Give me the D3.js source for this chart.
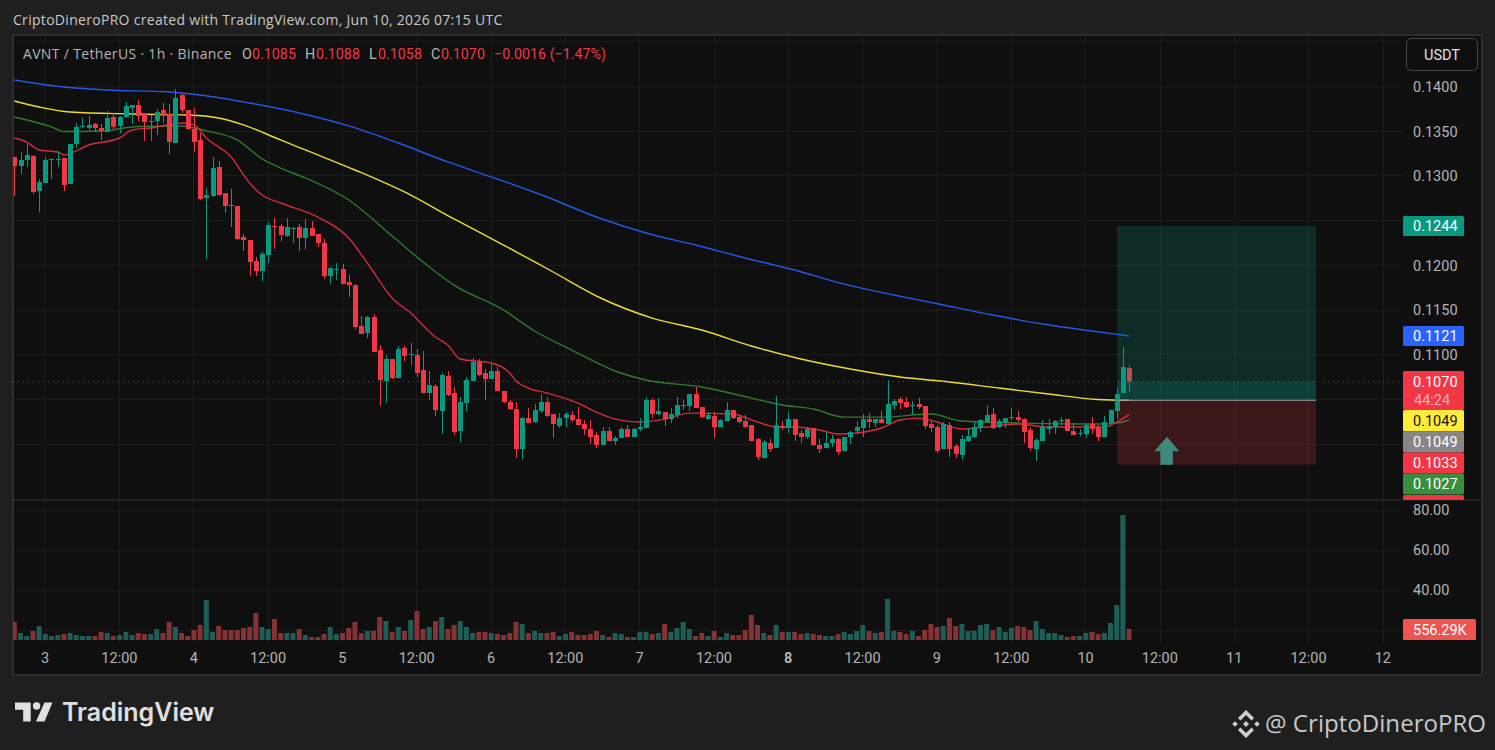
<!DOCTYPE html>
<html>
<head>
<meta charset="utf-8">
<title>AVNT / TetherUS</title>
<script src="https://cdn.jsdelivr.net/npm/d3@7"></script>
<style>
  html, body { margin: 0; padding: 0; background: #1f1f1f; overflow: hidden; }
  svg { display: block; }
  text { font-family: Roboto, "Liberation Sans", sans-serif; }
</style>
</head>
<body>
<div id="chart"></div>
<script>
// hourly candles, index 0 is Jun 2 19:00, one value per hour
const opens = [
  .13212,.13111,.13178,.13223,.12831,.12920,.13178,.13178,.13201,.12909,
  .13357,.13548,.13536,.13581,.13536,.13491,.13659,.13559,.13659,.13760,
  .13793,.13693,.13603,.13614,.13737,.13693,.13368,.13905,.13737,.13525,
  .13402,.12753,.12775,.13100,.12808,.12674,.12663,.12317,.12283,.12048,
  .11936,.12115,.12440,.12440,.12328,.12406,.12429,.12306,.12417,.12350,
  .12250,.11880,.11947,.11958,.11813,.11779,.11321,.11243,.11421,.11052,
  .10706,.10952,.10739,.11074,.10997,.10997,.10829,.10572,.10650,.10370,
  .10762,.10572,.10146,.10459,.10706,.10919,.10795,.10728,.10818,.10594,
  .10471,.10392,.09945,.10291,.10247,.10370,.10471,.10336,.10202,.10291,
  .10325,.10280,.10224,.10169,.10102,.09990,.10146,.10034,.10068,.10169,
  .10079,.10169,.10180,.10493,.10336,.10358,.10280,.10325,.10426,.10426,
  .10560,.10415,.10280,.10314,.10191,.10258,.10381,.10302,.10258,.10213,
  .10057,.09844,.10012,.09956,.10202,.10180,.10280,.10124,.10079,.10180,
  .09990,.09956,.10012,.10057,.09923,.10079,.10146,.10180,.10280,.10235,
  .10280,.10224,.10437,.10504,.10471,.10426,.10448,.10426,.10224,.10191,
  .09945,.10213,.09979,.09878,.10034,.10079,.10180,.10247,.10336,.10191,
  .10235,.10291,.10302,.10280,.10158,.09945,.10034,.10169,.10191,.10258,
  .10280,.10146,.10113,.10113,.10224,.10191,.10079,.10235,.10370,.10572,.10850
];
const closes = [
  .13111,.13178,.13234,.12820,.12931,.13178,.13190,.13190,.12898,.13357,
  .13548,.13559,.13570,.13536,.13503,.13648,.13548,.13659,.13782,.13793,
  .13670,.13603,.13614,.13715,.13670,.13379,.13872,.13737,.13525,.13379,
  .12741,.12786,.13088,.12786,.12663,.12663,.12294,.12283,.12037,.11936,
  .12126,.12451,.12429,.12339,.12429,.12417,.12306,.12417,.12328,.12250,
  .11880,.11969,.11958,.11790,.11779,.11310,.11232,.11421,.11030,.10717,
  .10952,.10739,.11063,.10985,.11008,.10795,.10572,.10661,.10381,.10773,
  .10549,.10135,.10471,.10717,.10919,.10773,.10728,.10818,.10594,.10471,
  .10392,.09945,.10291,.10235,.10381,.10471,.10314,.10224,.10291,.10336,
  .10269,.10213,.10169,.10079,.09990,.10146,.10034,.10068,.10169,.10079,
  .10169,.10191,.10493,.10336,.10370,.10280,.10336,.10437,.10437,.10560,
  .10403,.10302,.10325,.10191,.10269,.10381,.10291,.10247,.10191,.10034,
  .09856,.10023,.09945,.10213,.10180,.10280,.10102,.10079,.10169,.09990,
  .09945,.10012,.10057,.09912,.10079,.10135,.10191,.10280,.10247,.10280,
  .10235,.10448,.10482,.10459,.10415,.10437,.10415,.10202,.10180,.09923,
  .10224,.09945,.09889,.10057,.10090,.10191,.10269,.10325,.10180,.10258,
  .10291,.10302,.10269,.10135,.09956,.10046,.10191,.10202,.10258,.10269,
  .10146,.10102,.10124,.10213,.10169,.10079,.10247,.10381,.10560,.10862,.10700
];
const highs = [
  .13212,.13268,.13357,.13234,.12965,.13209,.13190,.13268,.13201,.13357,
  .13592,.13648,.13670,.13592,.13581,.13726,.13704,.13670,.13827,.13793,
  .13849,.13704,.13681,.13748,.13815,.13804,.13972,.13916,.13737,.13759,
  .13480,.12864,.13212,.13167,.12808,.12853,.12663,.12350,.12283,.12093,
  .12149,.12485,.12529,.12462,.12529,.12429,.12462,.12518,.12496,.12350,
  .12294,.11981,.12026,.12015,.11891,.11790,.11433,.11433,.11455,.11108,
  .10997,.10952,.11097,.11097,.11130,.11063,.11041,.10818,.10672,.10795,
  .10818,.10639,.10527,.10750,.10963,.10952,.10840,.10896,.10862,.10594,
  .10493,.10471,.10302,.10403,.10448,.10560,.10527,.10336,.10347,.10358,
  .10370,.10415,.10269,.10269,.10135,.10191,.10191,.10090,.10191,.10213,
  .10180,.10291,.10527,.10515,.10515,.10358,.10403,.10527,.10493,.10560,
  .10639,.10415,.10358,.10358,.10280,.10471,.10381,.10314,.10325,.10213,
  .10068,.10046,.10057,.10538,.10258,.10358,.10280,.10158,.10191,.10180,
  .10057,.10135,.10102,.10068,.10079,.10146,.10258,.10336,.10347,.10280,
  .10370,.10717,.10504,.10527,.10527,.10482,.10515,.10426,.10258,.10213,
  .10247,.10247,.10001,.10102,.10180,.10258,.10280,.10437,.10403,.10280,
  .10291,.10403,.10370,.10291,.10191,.10068,.10269,.10280,.10269,.10302,
  .10280,.10235,.10169,.10224,.10302,.10213,.10314,.10381,.10627,.11086,.10880
];
const lows = [
  .12775,.13021,.13100,.12798,.12596,.12920,.12965,.13100,.12831,.12909,
  .13312,.13536,.13514,.13491,.13402,.13491,.13525,.13480,.13648,.13581,
  .13614,.13391,.13391,.13458,.13592,.13245,.13368,.13704,.13514,.13268,
  .12730,.12070,.12764,.12775,.12585,.12429,.12283,.12160,.11880,.11880,
  .11824,.12026,.12182,.12272,.12317,.12250,.12160,.12182,.12328,.12205,
  .11846,.11790,.11835,.11790,.11645,.11287,.11232,.11187,.11030,.10426,
  .10459,.10728,.10739,.10930,.10885,.10750,.10572,.10493,.10314,.10113,
  .10538,.10102,.10024,.10370,.10706,.10762,.10493,.10728,.10594,.10459,
  .10381,.09844,.09822,.10235,.10235,.10347,.10302,.10068,.10180,.10191,
  .10247,.10213,.10102,.10001,.09956,.09990,.10034,.09990,.10068,.10079,
  .10079,.10146,.10180,.10291,.10325,.10202,.10235,.10291,.10381,.10370,
  .10403,.10291,.10280,.10068,.10191,.10258,.10280,.10235,.10180,.10034,
  .09822,.09844,.09912,.09956,.10158,.10124,.10034,.10012,.10057,.09979,
  .09900,.09956,.09968,.09878,.09923,.10001,.10113,.10079,.10180,.10191,
  .10235,.10224,.10381,.10392,.10403,.10325,.10392,.10169,.10135,.09900,
  .09945,.09856,.09844,.09822,.10023,.10068,.10135,.10247,.10169,.10180,
  .10180,.10269,.10247,.10012,.09923,.09811,.10034,.10113,.10113,.10213,
  .10146,.10102,.10090,.10068,.10113,.10034,.10079,.10224,.10280,.10572,.10580
];
// volume in thousands
const volumes = [
  900,350,200,450,700,300,200,250,300,350,
  250,200,200,200,400,350,200,250,400,250,
  350,300,300,550,350,900,650,350,200,500,
  750,2000,400,700,500,500,500,600,650,1350,
  650,550,1050,350,350,350,550,250,150,150,
  300,650,300,350,600,900,350,450,450,1150,
  950,400,650,450,1000,1450,550,650,950,1150,
  550,750,950,650,350,400,400,350,300,250,
  350,900,800,350,450,350,350,400,200,300,
  400,250,250,300,450,250,150,350,300,150,
  150,400,400,300,350,800,400,600,900,550,
  200,350,200,450,150,350,250,250,500,1250,
  750,350,250,750,400,400,400,300,350,300,
  250,200,200,300,400,300,450,750,450,350,
  400,2050,450,400,300,450,200,500,800,650,
  700,1100,700,800,450,450,750,800,500,650,
  400,600,700,650,500,950,550,350,350,250,
  150,200,200,350,400,300,350,850,1750,6250,556.29
];

// moving averages, hours counted from Jun 3 00:00
const blueHours = [-5,3,10,20,25,33,41,49,57,65,73,81,89,97,105,113,121,129,137,145,153,161,169,175];
const bluePrices = [.14073,.13994,.13961,.13938,.13905,.13815,.13704,.13559,.13368,.13156,.12965,.12764,.12540,.12361,.12227,.12082,.11947,.11790,.11668,.11556,.11444,.11343,.11265,.11210];
const yellowHours = [-5,-1,4,14,23,28,32,38,42,50,58,66,74,82,90,98,106,114,122,130,138,146,154,162,170,175];
const yellowPrices = [.13838,.13771,.13715,.13693,.13681,.13648,.13570,.13402,.13290,.13066,.12820,.12518,.12227,.11925,.11623,.11410,.11276,.11097,.10952,.10840,.10750,.10695,.10627,.10560,.10499,.10490];
const greenHours = [-5,1,3,9,15,22,26,31,35,38,42,49,56,62,66,74,79,85,92,97,106,114,119,124,129,135,143,148,158,170,173,175];
const greenPrices = [.13659,.13548,.13497,.13503,.13553,.13559,.13503,.13402,.13190,.13088,.12977,.12730,.12328,.11981,.11779,.11500,.11265,.11052,.10818,.10717,.10639,.10515,.10437,.10392,.10302,.10302,.10336,.10258,.10235,.10224,.10235,.10270];
const redHours = [-5,-3,-1,2,3,7,12,14,17,22,24,26,30,33,35,38,44,49,52,56,59,63,65,67,72,75,76,78,81,86,89,92,96,100,104,111,115,118,121,125,128,131,135,138,141,144,148,152,157,162,171,173,175];
const redPrices = [.13424,.13379,.13290,.13268,.13234,.13346,.13424,.13514,.13536,.13592,.13570,.13424,.13212,.12920,.12786,.12697,.12540,.12306,.12026,.11634,.11466,.11198,.11108,.10952,.10907,.10795,.10706,.10627,.10572,.10459,.10358,.10280,.10247,.10280,.10347,.10336,.10247,.10191,.10191,.10158,.10113,.10124,.10180,.10269,.10291,.10247,.10169,.10191,.10224,.10191,.10191,.10247,.10330];

// axis ticks
const priceTicks = [.14,.135,.13,.12,.115,.11];
const priceGrid = [.145,.14,.135,.13,.125,.12,.115,.11,.105,.10];
const lowerTicks = [80,60,40];
const lowerGrid = [80,60,40,20];
const timeHours = [0,12,24,36,48,60,72,84,96,108,120,132,144,156,168,180,192,204,216];
const timeLabels = ["3","12:00","4","12:00","5","12:00","6","12:00","7","12:00","8","12:00","9","12:00","10","12:00","11","12:00","12"];

// long position tool
const posStart = 173.05, posEnd = 205.2;
const posTarget = .1244, posEntry = .1049, posStop = .0977, lastPrice = .1070;

// price tags on the right hand axis
const tagValues = ["0.1244","0.1121","0.1049","0.1049","0.1033","0.1027"];
const tagColors = ["#089981","#2962ff","#ffeb3b","#868686","#f23645","#388e3c"];

const W = 1495, H = 750;
const pane = {left: 13, right: 1402, top: 35, mid: 500, bottom: 642, end: 675, outer: 1482};
const axisFont = 14.5;

const svg = d3.select("#chart").append("svg").attr("width", W).attr("height", H);

const x = d3.scaleLinear().domain([0, 216]).range([45.3, 1383]);
const y = d3.scaleLinear().domain([.14, .10]).range([86.5, 444.1]);
const vol = d3.scaleLinear().domain([0, 6250]).range([640, 515]);
const lowerY = d3.scaleLinear().domain([80, 20]).range([510, 630]);

// frame
svg.append("rect").attr("x", pane.left).attr("y", pane.top)
  .attr("width", pane.outer - pane.left).attr("height", pane.end - pane.top)
  .attr("fill", "#0f0f0f").attr("stroke", "#2e2e2e").attr("stroke-width", 2);

svg.append("defs").append("clipPath").attr("id", "paneClip").append("rect")
  .attr("x", pane.left).attr("y", pane.top).attr("width", pane.right - pane.left).attr("height", pane.bottom - pane.top);

// grid
const grid = svg.append("g").attr("stroke", "#1c1c1c").attr("stroke-width", 1).attr("shape-rendering", "crispEdges");
grid.selectAll(".v").data(timeHours).join("line")
  .attr("x1", d => x(d)).attr("x2", d => x(d)).attr("y1", pane.top).attr("y2", pane.bottom);
grid.selectAll(".h").data(priceGrid).join("line")
  .attr("x1", pane.left).attr("x2", pane.right).attr("y1", d => y(d)).attr("y2", d => y(d));
grid.selectAll(".l").data(lowerGrid).join("line")
  .attr("x1", pane.left).attr("x2", pane.right).attr("y1", d => lowerY(d)).attr("y2", d => lowerY(d));

svg.append("line").attr("x1", pane.left).attr("x2", pane.outer).attr("y1", pane.mid).attr("y2", pane.mid)
  .attr("stroke", "#2e2e2e").attr("stroke-width", 1);

const plot = svg.append("g").attr("clip-path", "url(#paneClip)");

// candle index to hour
const hourOf = i => i - 5;
const candles = d3.range(opens.length);
const isUp = i => closes[i] >= opens[i];

// volume
plot.append("g").selectAll("rect").data(candles).join("rect")
  .attr("x", i => x(hourOf(i)) - 2.5).attr("width", 5)
  .attr("y", i => vol(volumes[i])).attr("height", i => vol(0) - vol(volumes[i]))
  .attr("fill", i => isUp(i) ? "#1d5e57" : "#863234");

// moving averages
const maLine = (hours, prices) => d3.line().curve(d3.curveMonotoneX)
  .x((d, i) => x(hours[i])).y(d => y(d))(prices);
[[blueHours, bluePrices, "#2458e8"], [yellowHours, yellowPrices, "#ecdc38"],
 [greenHours, greenPrices, "#2f7a30"], [redHours, redPrices, "#d02c3c"]].forEach(s => {
  plot.append("path").attr("d", maLine(s[0], s[1]))
    .attr("fill", "none").attr("stroke", s[2]).attr("stroke-width", 1.4);
});

// current price line
svg.append("line").attr("x1", pane.left).attr("x2", pane.right)
  .attr("y1", y(lastPrice)).attr("y2", y(lastPrice))
  .attr("stroke", "#f23645").attr("stroke-opacity", .75).attr("stroke-dasharray", "1 4");

// candles
const candle = plot.append("g").selectAll("g").data(candles).join("g");
candle.append("line")
  .attr("x1", i => Math.round(x(hourOf(i))) + .5).attr("x2", i => Math.round(x(hourOf(i))) + .5)
  .attr("y1", i => y(highs[i])).attr("y2", i => y(lows[i]))
  .attr("stroke", i => isUp(i) ? "#089981" : "#f23645").attr("stroke-width", 1);
candle.append("rect")
  .attr("x", i => Math.round(x(hourOf(i))) - 2).attr("width", 5)
  .attr("y", i => y(Math.max(opens[i], closes[i])))
  .attr("height", i => Math.max(1, Math.abs(y(opens[i]) - y(closes[i]))))
  .attr("fill", i => isUp(i) ? "#089981" : "#f23645");

// long position box
const box = svg.append("g");
box.append("rect").attr("x", x(posStart)).attr("width", x(posEnd) - x(posStart))
  .attr("y", y(posTarget)).attr("height", y(posEntry) - y(posTarget))
  .attr("fill", "#089981").attr("fill-opacity", .2);
box.append("rect").attr("x", x(posStart)).attr("width", x(posEnd) - x(posStart))
  .attr("y", y(posEntry)).attr("height", y(posStop) - y(posEntry))
  .attr("fill", "#f23645").attr("fill-opacity", .2);
box.append("rect").attr("x", x(posStart)).attr("width", x(posEnd) - x(posStart))
  .attr("y", y(lastPrice)).attr("height", y(posEntry) - y(lastPrice))
  .attr("fill", "#089981").attr("fill-opacity", .2);
box.append("line").attr("x1", x(posStart)).attr("x2", x(posEnd))
  .attr("y1", y(posEntry)).attr("y2", y(posEntry)).attr("stroke", "#9a9a9a").attr("stroke-width", 1);

// arrow on the stop box
const ax = x(181.1), ab = y(posStop);
box.append("path")
  .attr("d", `M${ax},${ab - 28} L${ax + 12.5},${ab - 13.5} L${ax + 6},${ab - 13.5} L${ax + 6},${ab} L${ax - 6.5},${ab} L${ax - 6.5},${ab - 13.5} L${ax - 12.5},${ab - 13.5} Z`)
  .attr("fill", "#3f8a7b");

// price axis
const priceAxis = d3.axisRight(y).tickValues(priceTicks).tickFormat(d3.format(".4f")).tickSize(0).tickPadding(0);
const pAxisG = svg.append("g").attr("transform", "translate(1413,0.3)").call(priceAxis);
const lowerAxis = d3.axisRight(lowerY).tickValues(lowerTicks).tickFormat(d3.format(".2f")).tickSize(0).tickPadding(0);
const lAxisG = svg.append("g").attr("transform", "translate(1413,0.3)").call(lowerAxis);
[pAxisG, lAxisG].forEach(g => {
  g.select(".domain").remove();
  g.selectAll("text").attr("fill", "#b4b4b4").attr("font-size", axisFont).style("font-family", "Roboto, sans-serif");
});

// time axis
const timeAxis = d3.axisBottom(x).tickValues(timeHours)
  .tickFormat((d, i) => timeLabels[i]).tickSize(0).tickPadding(0);
const tAxisG = svg.append("g").attr("transform", "translate(-0.7,653)").call(timeAxis);
tAxisG.select(".domain").remove();
tAxisG.selectAll("text").attr("fill", "#b4b4b4").attr("font-size", axisFont)
  .attr("font-weight", d => d === 120 ? 700 : 400).style("font-family", "Roboto, sans-serif");

// tags stacked on the axis, the last price block first
const tagX = 1403, tagW = 61;
function tag(yTop, h, color, label, textColor) {
  svg.append("rect").attr("x", tagX).attr("y", yTop).attr("width", tagW).attr("height", h).attr("fill", color).attr("rx", 1.5);
  if (label) svg.append("text").attr("x", 1413).attr("y", yTop + h / 2 + 5.2).attr("font-size", axisFont)
    .attr("fill", textColor).text(label);
}
tag(y(posTarget) - 10, 20, tagColors[0], tagValues[0], "#ffffff");
tag(y(.1121) - 10, 20, tagColors[1], tagValues[1], "#ffffff");
tag(371, 39, "#f23645", null);
svg.append("text").attr("x", 1413).attr("y", 386.5).attr("font-size", axisFont).attr("fill", "#ffffff").text(d3.format(".4f")(lastPrice));
svg.append("text").attr("x", 1414).attr("y", 405).attr("font-size", axisFont).attr("fill", "#f9b4ba").text("44:24");
tag(410, 21.5, tagColors[2], tagValues[2], "#131313");
tag(431.5, 21, tagColors[3], tagValues[3], "#ffffff");
tag(452.5, 21, tagColors[4], tagValues[4], "#ffffff");
tag(473.5, 21, tagColors[5], tagValues[5], "#ffffff");
tag(495, 5, "#f23645", null);

// volume tag
svg.append("rect").attr("x", 1403).attr("y", 619).attr("width", 73).attr("height", 21).attr("fill", "#ef5350").attr("rx", 1.5);
svg.append("text").attr("x", 1413).attr("y", 634.5).attr("font-size", axisFont).attr("fill", "#ffffff").text("556.29K");

// currency button
svg.append("rect").attr("x", 1406.5).attr("y", 38.5).attr("width", 71).attr("height", 32).attr("rx", 5)
  .attr("fill", "#0f0f0f").attr("stroke", "#4a4a4a");
svg.append("text").attr("x", 1442).attr("y", 60).attr("text-anchor", "middle").attr("font-size", 14.5)
  .attr("fill", "#e0e0e0").text("USDT");

// header and legend
svg.append("text").attr("x", 13).attr("y", 24.5).attr("font-size", 14).attr("letter-spacing", .3).attr("fill", "#c8c8c8")
  .style("font-family", "'Open Sans', sans-serif")
  .text("CriptoDineroPRO created with TradingView.com, Jun 10, 2026 07:15 UTC");

const legendGray = "#b4b4b4", legendRed = "#f23645";
const legendParts = [
  [23, "AVNT / TetherUS · 1h · Binance", legendGray],
  [242, "O", legendGray], [252, "0.1085", legendRed],
  [305, "H", legendGray], [316, "0.1088", legendRed],
  [369, "L", legendGray], [378, "0.1058", legendRed],
  [431, "C", legendGray], [441, "0.1070", legendRed],
  [494, "−0.0016 (−1.47%)", legendRed]
];
svg.append("g").selectAll("text").data(legendParts).join("text")
  .attr("x", d => d[0]).attr("y", 59).attr("font-size", d => d[0] === 23 ? 14 : 14.3)
  .attr("letter-spacing", d => d[0] === 23 ? .33 : 0)
  .style("font-family", d => d[0] === 23 ? "'Open Sans', sans-serif" : "Roboto, sans-serif")
  .attr("fill", d => d[2]).text(d => d[1]);

// TradingView logo
const logo = svg.append("g").attr("fill", "#e0e0e0");
logo.append("path").attr("d", "M15,702.5 H30.7 V721.5 H23.2 V709.7 H15 Z");
logo.append("circle").attr("cx", 36.6).attr("cy", 706).attr("r", 3.7);
logo.append("path").attr("d", "M44.5,702.5 H52.5 L44.5,721.5 H36 Z");
svg.append("text").attr("x", 62).attr("y", 721).attr("font-size", 25).attr("font-weight", 600)
  .attr("fill", "#e0e0e0").style("font-family", "Inter, sans-serif").text("TradingView");

// exchange mark and handle
const mark = svg.append("g").attr("fill", "#cfcfcf").attr("transform", "translate(1246,724)");
mark.append("path").attr("d", "M0,-14 L8,-6 L5.5,-3.5 L0,-9 L-5.5,-3.5 L-8,-6 Z");
mark.append("path").attr("d", "M0,14 L8,6 L5.5,3.5 L0,9 L-5.5,3.5 L-8,6 Z");
mark.append("path").attr("d", "M0,-3 L3,0 L0,3 L-3,0 Z");
mark.append("path").attr("d", "M-11,-2.8 L-8.2,0 L-11,2.8 L-13.8,0 Z");
mark.append("path").attr("d", "M11,-2.8 L13.8,0 L11,2.8 L8.2,0 Z");
svg.append("text").attr("x", 1265).attr("y", 732).attr("font-size", 24.1).attr("fill", "#c8c8c8")
  .style("font-family", "'Open Sans', sans-serif").text("@ CriptoDineroPRO");
</script>
</body>
</html>
